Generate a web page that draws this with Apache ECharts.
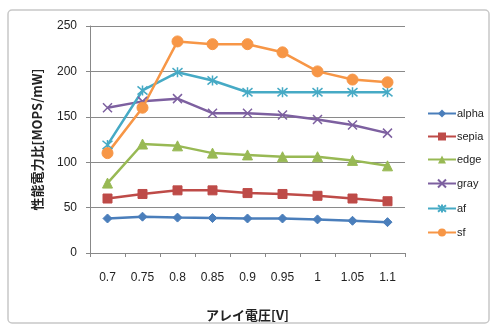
<!DOCTYPE html>
<html><head><meta charset="utf-8">
<script src="https://cdn.jsdelivr.net/npm/echarts@6/dist/echarts.min.js"></script>
<style>html,body{margin:0;padding:0;background:#fff}#c{width:492px;height:326px}</style>
</head><body><div id="c"></div>
<script>
const categories = ['0.7','0.75','0.8','0.85','0.9','0.95','1','1.05','1.1'];
const alpha = [38, 40, 39, 38.5, 38, 38, 37, 35.5, 34];
const sepia = [60, 65, 69, 69, 66, 65, 63, 60, 57];
const edge = [77, 120, 118, 110, 108, 106, 106, 102, 96];
const gray = [160, 167, 170, 154, 154, 152, 147, 141, 132];
const af = [119, 179, 199, 190, 177, 177, 177, 177, 177];
const sf = [110, 160, 233, 230, 230, 221, 200, 191, 188];
const yTicks = [0, 50, 100, 150, 200, 250];

const X = 'path://M0,0L10,10M10,0L0,10';
const STAR = 'path://M0,0L10,10M10,0L0,10M5,-1L5,11';
function s(name, data, color, symbol, size, stroke) {
  return {
    name, type: 'line', data, symbol, symbolSize: size,
    lineStyle: { color, width: 2.5 },
    itemStyle: stroke ? { color: 'none', borderColor: color, borderWidth: 1.5 } : { color, borderColor: color },
    emphasis: { disabled: true }
  };
}
const chart = echarts.init(document.getElementById('c'), null, { renderer: 'canvas' });
chart.setOption({
  animation: false,
  backgroundColor: '#fff',
  graphic: [{ type: 'rect', shape: { x: 8, y: 10, width: 481, height: 313, r: 4 }, style: { fill: 'none', stroke: '#c8c8c8', lineWidth: 1.5 }, z: -1 }],
  grid: { left: 90, right: 87, top: 26, bottom: 73, outerBoundsMode: 'none', containLabel: false },
  legend: {
    orient: 'vertical', left: 422, top: 103, itemGap: 12, itemWidth: 28, itemHeight: 10,
    textStyle: { fontFamily: 'Liberation Sans', fontSize: 11, color: '#222', padding: [0, 0, 0, -4] },
    data: ['alpha', 'sepia', 'edge', 'gray', 'af', 'sf']
  },
  xAxis: {
    type: 'category', data: categories, boundaryGap: true,
    name: 'アレイ電圧[V]', nameLocation: 'middle', nameGap: 56,
    nameTextStyle: { fontFamily: 'Noto Sans CJK JP', fontWeight: 'bold', fontSize: 13, color: '#222' },
    axisLine: { lineStyle: { color: '#888', width: 1 } },
    axisTick: { show: true, length: 4, lineStyle: { color: '#888' } },
    axisLabel: { margin: 19, fontFamily: 'Liberation Sans', fontSize: 12, color: '#222' }
  },
  yAxis: {
    type: 'value', min: 0, max: 250, interval: 50,
    name: '性能電力比[MOPS/mW]', nameLocation: 'middle', nameGap: 46, nameRotate: 90,
    nameTextStyle: { fontFamily: 'Noto Sans CJK JP', fontWeight: 'bold', fontSize: 13, color: '#222' },
    axisLine: { show: true, lineStyle: { color: '#888', width: 1 } },
    axisTick: { show: true, length: 4, lineStyle: { color: '#888' } },
    splitLine: { lineStyle: { color: '#8a8a8a', width: 1 } },
    axisLabel: { margin: 13, fontFamily: 'Liberation Sans', fontSize: 12, color: '#222',
      formatter: v => yTicks.includes(v) ? String(v) : '' }
  },
  series: [
    s('alpha', alpha, '#4A7EBB', 'diamond', 9, false),
    s('sepia', sepia, '#BE4B48', 'rect', 9, false),
    s('edge', edge, '#98B954', 'triangle', 10, false),
    s('gray', gray, '#7D60A0', X, 9, true),
    s('af', af, '#46AAC5', STAR, 10, true),
    s('sf', sf, '#F79646', 'circle', 11, false)
  ]
});
</script></body></html>
